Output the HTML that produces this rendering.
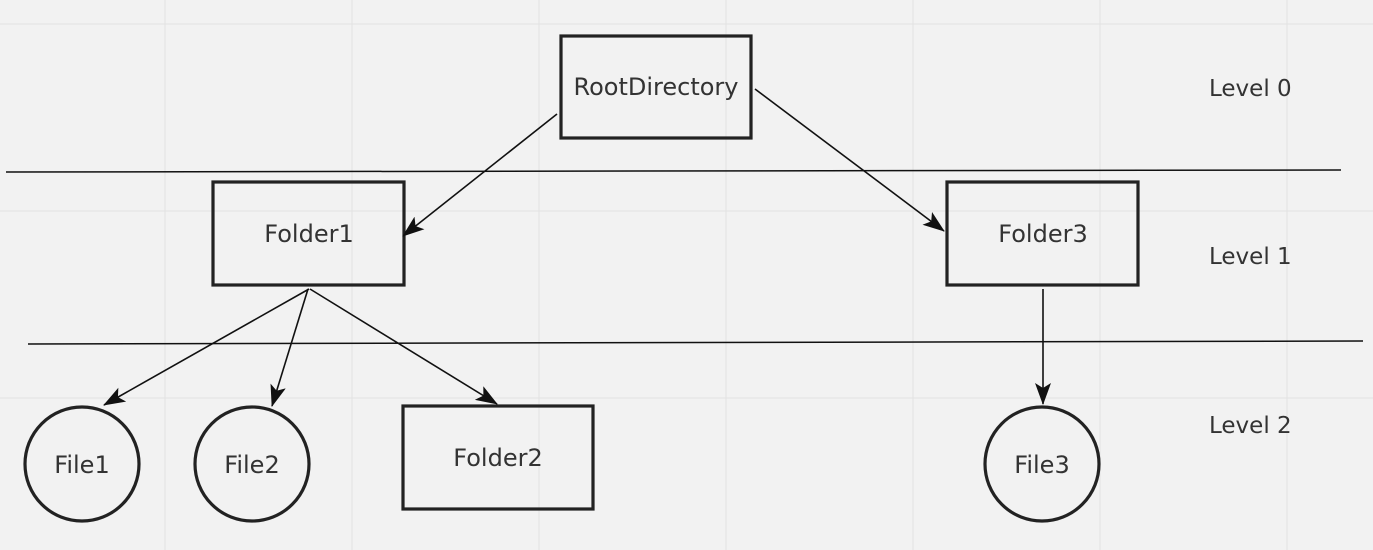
<!DOCTYPE html>
<html><head><style>
html,body{margin:0;padding:0;background:#f2f2f2;}
svg{display:block;}
text{font-family:"DejaVu Sans","Liberation Sans",sans-serif;font-size:24px;fill:#333;}
text.l{font-size:23px;}
</style></head><body>
<svg width="1373" height="550" viewBox="0 0 1373 550" xmlns="http://www.w3.org/2000/svg">
<defs>
<marker id="b" markerWidth="22" markerHeight="16" refX="21" refY="8" orient="auto" markerUnits="userSpaceOnUse" viewBox="0 0 22 16">
<path d="M0,0 L22,8 L0,16 L5,8 z" fill="#111"/>
</marker>
</defs>
<g stroke="#e2e2e2" stroke-width="1">
<line x1="165" y1="0" x2="165" y2="550"/><line x1="352" y1="0" x2="352" y2="550"/>
<line x1="539" y1="0" x2="539" y2="550"/><line x1="726" y1="0" x2="726" y2="550"/>
<line x1="913" y1="0" x2="913" y2="550"/><line x1="1100" y1="0" x2="1100" y2="550"/>
<line x1="1287" y1="0" x2="1287" y2="550"/>
<line x1="0" y1="24" x2="1373" y2="24"/><line x1="0" y1="211" x2="1373" y2="211"/>
<line x1="0" y1="398" x2="1373" y2="398"/>
</g>
<g stroke="#111" stroke-width="1.5">
<line x1="6" y1="172" x2="1341" y2="170"/>
<line x1="28" y1="344" x2="1363" y2="341"/>
</g>
<g fill="none" stroke="#222" stroke-width="3.2">
<rect x="561" y="36" width="190" height="102"/>
<rect x="213" y="182" width="191" height="103"/>
<rect x="947" y="182" width="191" height="103"/>
<rect x="403" y="406" width="190" height="103"/>
<circle cx="82" cy="464" r="57"/>
<circle cx="252" cy="464" r="57"/>
<circle cx="1042" cy="464" r="57"/>
</g>
<g stroke="#111" stroke-width="1.6">
<line x1="557" y1="114" x2="403" y2="236" marker-end="url(#b)"/>
<line x1="755" y1="89" x2="944" y2="231" marker-end="url(#b)"/>
<line x1="309" y1="289" x2="104" y2="405" marker-end="url(#b)"/>
<line x1="308" y1="289" x2="272" y2="406" marker-end="url(#b)"/>
<line x1="310" y1="289" x2="497" y2="404" marker-end="url(#b)"/>
<line x1="1043" y1="289" x2="1043" y2="404" marker-end="url(#b)"/>
</g>
<g text-anchor="middle">
<text x="656" y="95">RootDirectory</text>
<text x="309" y="242">Folder1</text>
<text x="1043" y="242">Folder3</text>
<text x="498" y="466">Folder2</text>
<text x="82" y="473">File1</text>
<text x="252" y="473">File2</text>
<text x="1042" y="473">File3</text>
</g>
<text class="l" x="1209" y="96">Level 0</text>
<text class="l" x="1209" y="264">Level 1</text>
<text class="l" x="1209" y="433">Level 2</text>
</svg>
</body></html>
